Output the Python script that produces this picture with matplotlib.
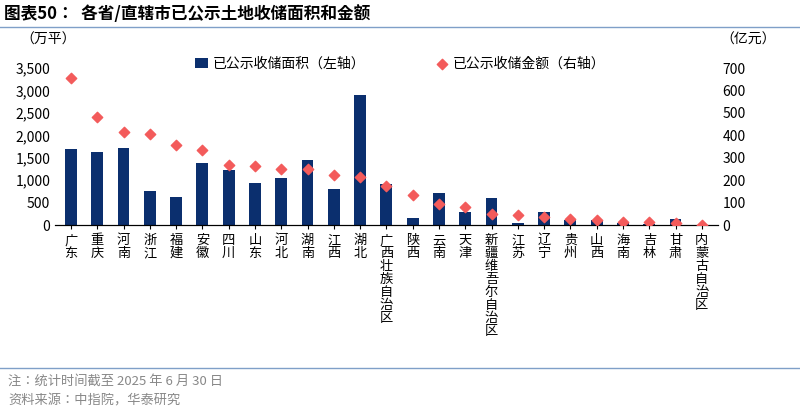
import matplotlib
matplotlib.use("Agg")
import matplotlib.pyplot as plt
import numpy as np
plt.rcParams['font.family'] = ['Noto Sans CJK JP', 'Noto Sans CJK SC', 'Noto Sans CJK TC', 'Noto Sans CJK KR', 'DejaVu Sans']

categories = ["广东","重庆","河南","浙江","福建","安徽","四川","山东","河北","湖南","江西","湖北",
              "广西壮族自治区","陕西","云南","天津","新疆维吾尔自治区","江苏","辽宁","贵州","山西","海南","吉林","甘肃","内蒙古自治区"]
area = [1700,1630,1710,760,630,1380,1220,930,1050,1460,810,2900,920,160,720,290,610,50,290,120,110,50,30,130,10]
amount = [655,480,415,405,355,333,270,262,248,248,222,215,173,135,92,80,50,45,38,28,22,15,12,8,2]

fig = plt.figure(figsize=(8,4.13), dpi=100)
ax = fig.add_axes([0.069,0.455,0.828,0.38])
x = np.arange(len(categories))
ax.bar(x, area, width=0.45, color='#0b2f6e', label='已公示收储面积（左轴）')
ax.set_ylim(0,3500); ax.set_yticks(range(0,3501,500))
ax.set_yticklabels([f"{v:,}" for v in range(0,3501,500)], fontsize=10)
ax.set_xlim(-0.6, len(categories)-0.4)
ax.set_xticks(x)
ax.set_xticklabels(['\n'.join(c) for c in categories], fontsize=9.5, linespacing=1.0, va='top')
ax2 = ax.twinx()
ax2.scatter(x, amount, marker='D', s=28, color='#f35b5b', zorder=3, label='已公示收储金额（右轴）')
ax2.set_ylim(0,700); ax2.set_yticks(range(0,701,100))
ax2.tick_params(labelsize=10)
for a in (ax, ax2):
    a.spines['top'].set_visible(False)
    a.spines['left'].set_visible(False); a.spines['right'].set_visible(False)
ax.tick_params(axis='y', length=0); ax2.tick_params(axis='y', length=0)
ax.tick_params(axis='x', length=3)
h1,l1 = ax.get_legend_handles_labels(); h2,l2 = ax2.get_legend_handles_labels()
fig.legend(h1+h2, l1+l2, loc='center', bbox_to_anchor=(0.5,0.845), ncol=2, frameon=False, fontsize=10,
           columnspacing=5, handlelength=1, handletextpad=0.3)
fig.text(0.025,0.895,'（万平）', fontsize=10)
fig.text(0.9,0.895,'（亿元）', fontsize=10)
fig.text(0.005,0.965,'图表50：  各省/直辖市已公示土地收储面积和金额', fontsize=12, weight='bold', va='center')
fig.add_artist(plt.Line2D([0,1],[0.935,0.935], color='#7f9fc8', lw=1))
fig.add_artist(plt.Line2D([0,1],[0.11,0.11], color='#7f9fc8', lw=1))
fig.text(0.01,0.078,'注：统计时间截至 2025 年 6 月 30 日', fontsize=9.5, color='#888888', va='center')
fig.text(0.01,0.03,'资料来源：中指院，华泰研究', fontsize=9.5, color='#888888', va='center')
fig.savefig('out.png', dpi=100)
